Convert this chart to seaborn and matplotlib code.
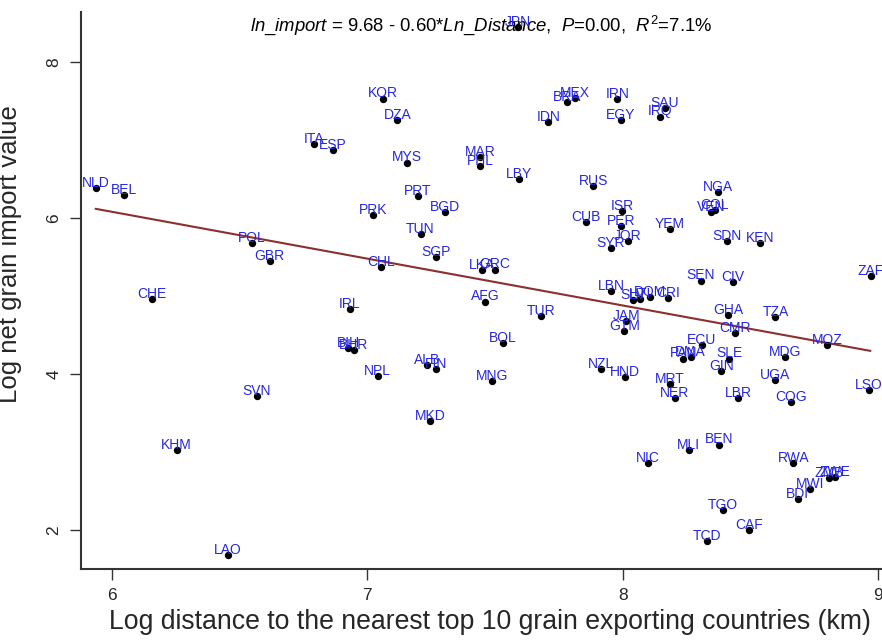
import numpy as np
import pandas as pd
import matplotlib
matplotlib.use("Agg")
import matplotlib.pyplot as plt
import seaborn as sns

countries = ["NLD", "BEL", "ITA", "ESP", "KOR", "DZA", "JPN", "MEX", "BRA", "IDN",
             "MYS", "MAR", "PHL", "LBY", "RUS", "PRT", "IRN", "EGY", "SAU", "IRQ",
             "NGA", "POL", "GBR", "CHE", "IRL", "BIH", "BHR", "PRK", "BGD", "TUN",
             "SGP", "CHL", "LKA", "GRC", "AFG", "TUR", "BOL", "NPL", "ALB", "FIN",
             "MNG", "CUB", "SYR", "LBN", "NZL", "ISR", "PER", "JOR", "YEM", "VEN",
             "COL", "SDN", "KEN", "ZAF", "SEN", "CIV", "SLV", "HTI", "DOM", "CRI",
             "JAM", "GTM", "GHA", "TZA", "CMR", "MOZ", "ECU", "PAN", "DMA", "SLE",
             "GIN", "MDG", "UGA", "HND", "MRT", "LSO", "NER", "LBR", "COG", "MLI",
             "BEN", "NIC", "RWA", "ZMB", "ZWE", "MWI", "BDI", "TGO", "CAF", "TCD",
             "SVN", "KHM", "LAO", "MKD"]

ln_distance = [5.936, 6.046, 6.792, 6.864, 7.062, 7.117, 7.590, 7.812, 7.780, 7.708,
               7.156, 7.440, 7.442, 7.594, 7.884, 7.198, 7.978, 7.992, 8.164, 8.145,
               8.371, 6.547, 6.618, 6.158, 6.932, 6.926, 6.947, 7.023, 7.302, 7.208,
               7.269, 7.053, 7.447, 7.500, 7.461, 7.680, 7.530, 7.040, 7.232, 7.269,
               7.486, 7.855, 7.952, 7.955, 7.914, 7.997, 7.992, 8.018, 8.184, 8.344,
               8.360, 8.407, 8.536, 8.969, 8.304, 8.432, 8.040, 8.067, 8.106, 8.177,
               8.014, 8.005, 8.413, 8.597, 8.438, 8.800, 8.308, 8.236, 8.265, 8.416,
               8.385, 8.634, 8.597, 8.008, 8.184, 8.964, 8.202, 8.451, 8.659, 8.258,
               8.376, 8.098, 8.667, 8.808, 8.831, 8.732, 8.684, 8.390, 8.493, 8.329,
               6.566, 6.253, 6.453, 7.246]

ln_import = [6.38, 6.29, 6.95, 6.87, 7.53, 7.25, 8.45, 7.54, 7.48, 7.23,
             6.71, 6.78, 6.67, 6.50, 6.41, 6.28, 7.52, 7.25, 7.41, 7.30,
             6.33, 5.68, 5.45, 4.96, 4.83, 4.33, 4.31, 6.04, 6.08, 5.80,
             5.50, 5.37, 5.33, 5.34, 4.93, 4.74, 4.40, 3.98, 4.12, 4.07,
             3.91, 5.95, 5.61, 5.07, 4.07, 6.09, 5.90, 5.71, 5.86, 6.08,
             6.10, 5.70, 5.68, 5.26, 5.20, 5.18, 4.95, 4.96, 4.99, 4.97,
             4.68, 4.55, 4.76, 4.73, 4.53, 4.37, 4.37, 4.20, 4.22, 4.20,
             4.04, 4.22, 3.92, 3.96, 3.87, 3.80, 3.70, 3.70, 3.64, 3.03,
             3.10, 2.86, 2.86, 2.67, 2.68, 2.53, 2.40, 2.26, 2.00, 1.86,
             3.72, 3.03, 1.69, 3.40]

intercept = 9.68
slope = -0.60

df = pd.DataFrame({"country": countries, "ln_distance": ln_distance, "ln_import": ln_import})

sns.set_style("white")
plt.rcParams["font.family"] = ["Liberation Sans", "DejaVu Sans"]
plt.rcParams["mathtext.fontset"] = "custom"
plt.rcParams["mathtext.rm"] = "Liberation Sans"
plt.rcParams["mathtext.it"] = "Liberation Sans:italic"

fig = plt.figure(figsize=(8.82, 6.42), dpi=100)
ax = fig.add_axes([0.0918, 0.1137, 0.9082, 0.8676])

# fitted line over the data range
xs = np.linspace(df["ln_distance"].min(), df["ln_distance"].max(), 50)
fit = pd.DataFrame({"x": xs, "y": intercept + slope * xs})
sns.lineplot(data=fit, x="x", y="y", color="#8c2f2f", linewidth=1.5, ax=ax)

sns.scatterplot(data=df, x="ln_distance", y="ln_import", color="black",
                s=28, edgecolor=None, linewidth=0, ax=ax, zorder=3)

for _, row in df.iterrows():
    ax.annotate(row["country"], (row["ln_distance"], row["ln_import"]),
                xytext=(0, 0.8), textcoords="offset points",
                ha="center", va="baseline", fontsize=10, color="#2727e0",
                zorder=4)

ax.text(0.5, 0.966,
        r"$\it{ln\_import}$ = 9.68 - 0.60*$\it{Ln\_Distance}$,  $\it{P}$=0.00,  $\it{R}^2$=7.1%",
        transform=ax.transAxes, ha="center", va="baseline", fontsize=13.3, color="black")

ax.set_xlim(5.879, 9.014)
ax.set_ylim(1.506, 8.638)
ax.set_xticks([6, 7, 8, 9])
ax.set_yticks([2, 4, 6, 8])
ax.tick_params(axis="both", direction="out", length=8, width=1, color="#333333",
               labelsize=12.5, left=True, bottom=True, pad=6)
plt.setp(ax.get_yticklabels(), rotation=90, va="center")

for side in ["top", "right"]:
    ax.spines[side].set_visible(False)
for side in ["left", "bottom"]:
    ax.spines[side].set_color("#333333")
    ax.spines[side].set_linewidth(1.5)

ax.set_xlabel("Log distance to the nearest top 10 grain exporting countries (km)",
              fontsize=19.2, labelpad=8)
ax.set_ylabel("Log net grain import value", fontsize=18.5, labelpad=8)
ax.xaxis.set_label_coords(0.51, -0.072)
ax.yaxis.set_label_coords(-0.073, 0.565)

fig.savefig("out.png", dpi=100)
